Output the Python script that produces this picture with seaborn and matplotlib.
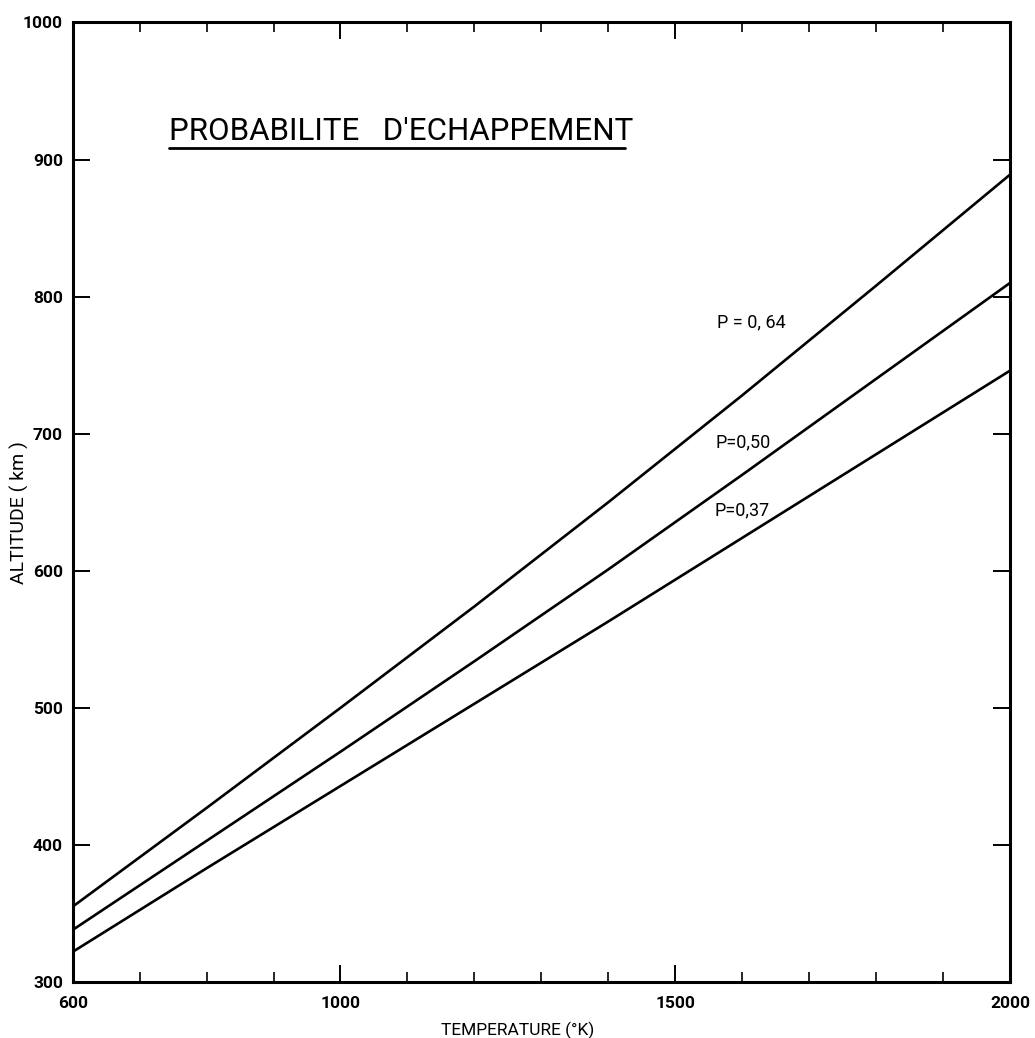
import numpy as np
import pandas as pd
import matplotlib
matplotlib.use("Agg")
import matplotlib.pyplot as plt
import seaborn as sns
from matplotlib.ticker import FixedLocator
from matplotlib.lines import Line2D

# ---- data ----
temperature = [600, 800, 1000, 1200, 1400, 1600, 1800, 2000]
alt_p064 = [355, 427, 500, 574, 650, 728, 808, 889]
alt_p050 = [338, 403, 468, 534, 601, 670, 740, 810]
alt_p037 = [322, 383, 443, 503, 563, 624, 685, 746]
curve_names = ["P = 0, 64", "P=0,50", "P=0,37"]
x_major_ticks = [600, 1000, 1500, 2000]
x_minor_ticks = [700, 800, 900, 1100, 1200, 1300, 1400, 1600, 1700, 1800, 1900]
y_ticks = [300, 400, 500, 600, 700, 800, 900, 1000]

sns.set_theme(style="white")
plt.rcParams["font.family"] = ["Roboto", "DejaVu Sans"]

df = pd.concat([
    pd.DataFrame({"T": temperature, "alt": vals, "P": name})
    for name, vals in zip(curve_names, [alt_p064, alt_p050, alt_p037])
])

W, H = 1035, 1038
fig = plt.figure(figsize=(W / 100, H / 100), dpi=100)
L, R, T_, B = 72.7, 1010, 22.5, 982
ax = fig.add_axes([L / W, 1 - B / H, (R - L) / W, (B - T_) / H])

sns.lineplot(data=df, x="T", y="alt", hue="P", palette=["black"] * 3,
             legend=False, linewidth=1.9, ax=ax)

ax.set_xlim(600, 2000)
ax.set_ylim(300, 1000)
ax.xaxis.set_major_locator(FixedLocator(x_major_ticks))
ax.xaxis.set_minor_locator(FixedLocator(x_minor_ticks))
ax.yaxis.set_major_locator(FixedLocator(y_ticks))
ax.set_xticklabels([str(v) for v in x_major_ticks])
ax.set_yticklabels([str(v) for v in y_ticks])

ax.tick_params(axis="x", which="major", direction="in", length=12, width=1.4,
               top=True, bottom=True, pad=10, labelsize=12.5, colors="black")
ax.tick_params(axis="x", which="minor", direction="in", length=7.5, width=1.4,
               top=True, bottom=True)
ax.tick_params(axis="y", which="major", direction="in", length=12, width=1.4,
               left=True, right=True, pad=7, labelsize=12.5, colors="black")
for lab in ax.get_xticklabels() + ax.get_yticklabels():
    lab.set_fontweight("bold")

for s in ax.spines.values():
    s.set_linewidth(2.2)
    s.set_color("black")

ax.set_xlabel("TEMPERATURE (°K)", fontsize=12.5, color="black")
ax.xaxis.label.set_va("center")
ax.xaxis.set_label_coords((518 - L) / (R - L), (B - 1030) / (B - T_))
ax.set_ylabel("ALTITUDE ( km )", fontsize=14, color="black")
ax.yaxis.label.set_va("center")
ax.yaxis.set_label_coords((19 - L) / (R - L), (B - 513) / (B - T_))

# curve labels
label_pos = [(1563, 781), (1560, 694), (1558, 644)]
for name, (tx, ty) in zip(curve_names, label_pos):
    ax.text(tx, ty, name, fontsize=13, ha="left", va="center", color="black")

# title with underline
fig.text(169 / W, 1 - 140 / H, "PROBABILITE   D'ECHAPPEMENT", fontsize=22.5,
         ha="left", va="baseline", color="black")
fig.add_artist(Line2D([169 / W, 625 / W], [1 - 148 / H, 1 - 148 / H],
                      transform=fig.transFigure, color="black", linewidth=2))

fig.savefig("out.png", dpi=100)
